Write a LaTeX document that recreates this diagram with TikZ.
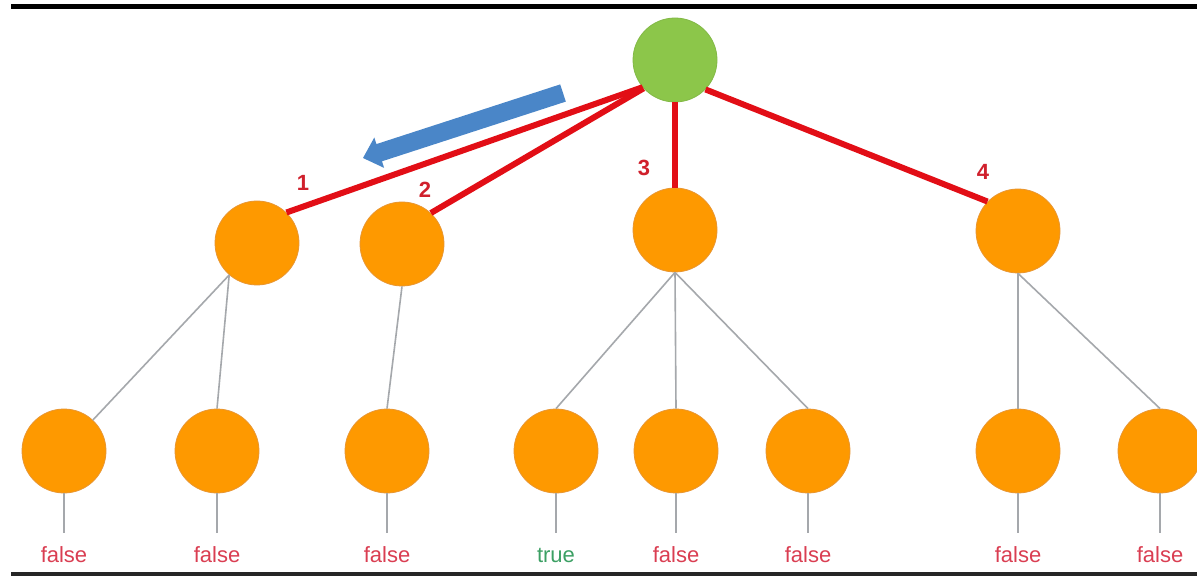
\documentclass[tikz,border=0pt]{standalone}
\usepackage{fontspec}
\setmainfont{Liberation Sans}
\definecolor{nodeorange}{RGB}{254,153,0}
\definecolor{orangeedge}{RGB}{232,150,50}
\definecolor{nodegreen}{RGB}{140,198,74}
\definecolor{greenedge}{RGB}{130,185,70}
\definecolor{pathred}{RGB}{226,14,22}
\definecolor{numred}{RGB}{208,32,44}
\definecolor{falsered}{RGB}{218,62,82}
\definecolor{truegreen}{RGB}{60,160,100}
\definecolor{edgegray}{RGB}{165,168,172}
\definecolor{arrowblue}{RGB}{74,134,200}
\begin{document}
\begin{tikzpicture}[x=0.5pt,y=-0.5pt,
  onode/.style={circle,fill=nodeorange,draw=orangeedge,line width=0.4pt,minimum size=42pt,inner sep=0pt},
  gnode/.style={circle,fill=nodegreen,draw=greenedge,line width=0.4pt,minimum size=42pt,inner sep=0pt},
  redline/.style={pathred,line width=3pt},
  grayline/.style={edgegray,line width=0.8pt},
  numlabel/.style={numred,font=\fontsize{11}{13}\selectfont\bfseries,inner sep=0pt},
  falselabel/.style={falsered,font=\fontsize{11}{13}\selectfont,inner sep=0pt,anchor=base},
  truelabel/.style={truegreen,font=\fontsize{11}{13}\selectfont,inner sep=0pt,anchor=base}]
\useasboundingbox (0,0) rectangle (1197,576);
\fill[white] (0,0) rectangle (1197,576);
% frame bars
\fill[black] (11,4) rectangle (1197,9);
\fill[black!85] (11,572) rectangle (1197,576);
% nodes
\node[gnode] (root) at (675,60) {};
\node[onode] (n1) at (257,243) {};
\node[onode] (n2) at (402,244) {};
\node[onode] (n3) at (675,230) {};
\node[onode] (n4) at (1018,231) {};
\node[onode] (l1) at (64,451) {};
\node[onode] (l2) at (217,451) {};
\node[onode] (l3) at (387,451) {};
\node[onode] (l4) at (556,451) {};
\node[onode] (l5) at (676,451) {};
\node[onode] (l6) at (808,451) {};
\node[onode] (l7) at (1018,451) {};
\node[onode] (l8) at (1160,451) {};
% red path edges
\draw[redline] (root.220) -- (n1.46);
\draw[redline] (root.222) -- (n2.47);
\draw[redline] (root.south) -- (n3.north);
\draw[redline] (root.316) -- (n4.136);
% gray edges
\draw[grayline] (n1.229) -- (l1.47);
\draw[grayline] (n1.229) -- (l2.north);
\draw[grayline] (n2.south) -- (l3.north);
\draw[grayline] (n3.south) -- (l4.north);
\draw[grayline] (n3.south) -- (l5.north);
\draw[grayline] (n3.south) -- (l6.north);
\draw[grayline] (n4.south) -- (l7.north);
\draw[grayline] (n4.south) -- (l8.north);
% leaf result labels
\node[falselabel] (r1) at (64,562) {false};
\node[falselabel] (r2) at (217,562) {false};
\node[falselabel] (r3) at (387,562) {false};
\node[truelabel]  (r4) at (556,562) {true};
\node[falselabel] (r5) at (676,562) {false};
\node[falselabel] (r6) at (808,562) {false};
\node[falselabel] (r7) at (1018,562) {false};
\node[falselabel] (r8) at (1160,562) {false};
\coordinate (t1) at (64,533);
\coordinate (t2) at (217,533);
\coordinate (t3) at (387,533);
\coordinate (t4) at (556,533);
\coordinate (t5) at (676,533);
\coordinate (t6) at (808,533);
\coordinate (t7) at (1018,533);
\coordinate (t8) at (1160,533);
\foreach \i in {1,...,8} {\draw[grayline] (l\i.south) -- (t\i);}
% order numbers
\node[numlabel] (k1) at (303,183) {1};
\node[numlabel] (k2) at (425,190) {2};
\node[numlabel] (k3) at (644,168) {3};
\node[numlabel] (k4) at (983,172) {4};
% blue direction arrow
\fill[arrowblue] (565.8,101.6) -- (560.2,84.4) -- (376.4,144.1) -- (374.3,137.5)
  -- (363,158) -- (384.1,167.9) -- (382.0,161.3) -- cycle;
\end{tikzpicture}
\end{document}
